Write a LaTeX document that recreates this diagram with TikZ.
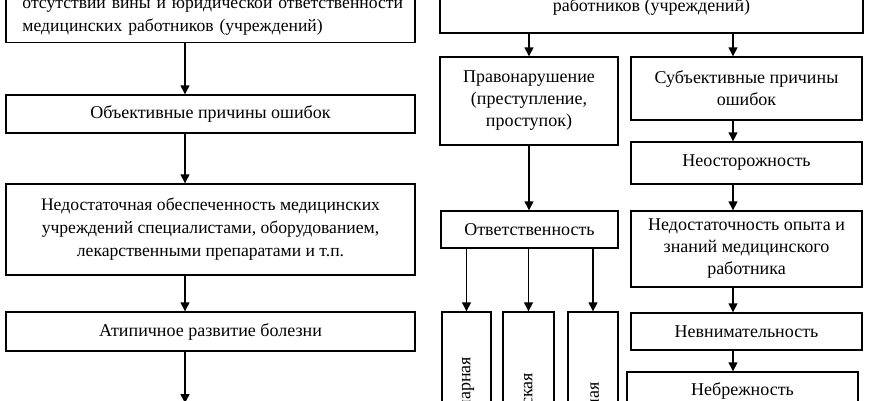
\documentclass[tikz,border=0pt]{standalone}
\usepackage{fontspec}
\setmainfont{Liberation Serif}
\usetikzlibrary{arrows.meta}
\begin{document}
\begin{tikzpicture}[x=1bp,y=-1bp,
  box/.style={draw, line width=1.4bp, inner sep=0pt, align=center,
    font=\fontsize{18bp}{22bp}\selectfont},
  arr/.style={line width=1.4bp, -{Triangle[width=9bp,length=9bp]}}]
\useasboundingbox (0,0) rectangle (870,400);
\clip (0,0) rectangle (870,400);
% left column
\node[box, anchor=south, minimum width=409bp, text width=376bp, inner xsep=16bp,
  inner ysep=7bp, align=left, font=\fontsize{17.6bp}{23.5bp}\selectfont] (top) at (210.5,43)
  {\hbox to 376bp{отсутствии\hfil\ вины\hfil\ и\hfil\ юридической\hfil\ ответственности}\\
   медицинских работников (учреждений)};
\node[box, minimum width=409bp, minimum height=38bp] (obj) at (210.5,114)
  {Объективные причины ошибок};
\node[box, minimum width=409bp, minimum height=91bp, font=\fontsize{17.6bp}{23bp}\selectfont] (ned) at (210.5,229.5)
  {Недостаточная обеспеченность медицинских\\
   учреждений специалистами, оборудованием,\\
   лекарственными препаратами и т.п.};
\node[box, minimum width=409bp, minimum height=39bp] (atip) at (210.5,331.5)
  {Атипичное развитие болезни};
\coordinate (lc) at (185,0);
\coordinate (lend) at (185,403);
\draw[arr] (top.south -| lc) -- (obj.north -| lc);
\draw[arr] (obj.south -| lc) -- (ned.north -| lc);
\draw[arr] (ned.south -| lc) -- (atip.north -| lc);
\draw[arr] (atip.south -| lc) -- (lend);
% right column
\node[box, anchor=base, minimum width=423bp, text height=40bp, text depth=22bp]
  (rtop) at (651.5,11) {работников (учреждений)};
\node[box, minimum width=178bp, minimum height=88bp] (prav) at (529,101)
  {Правонарушение\\(преступление,\\проступок)};
\node[box, minimum width=231bp, minimum height=63bp] (subj) at (746.5,88.5)
  {Субъективные причины\\ошибок};
\node[box, minimum width=231bp, minimum height=42bp] (neost) at (746.5,163)
  {Неосторожность};
\node[box, minimum width=177bp, minimum height=37bp] (otv) at (529.5,229.5)
  {Ответственность};
\node[box, minimum width=231bp, minimum height=76bp] (nedop) at (746.5,249)
  {Недостаточность опыта и\\знаний медицинского\\работника};
\node[box, minimum width=231bp, minimum height=37bp] (nevn) at (746.5,331.5)
  {Невнимательность};
\node[box, minimum width=231bp, minimum height=38bp] (nebr) at (742.5,391)
  {Небрежность};
\node[box, rotate=90, minimum width=220bp, minimum height=49bp] (v1) at (466.5,422)
  {Дисциплинарная};
\node[box, rotate=90, minimum width=220bp, minimum height=51bp] (v2) at (528.5,422)
  {Гражданская};
\node[box, rotate=90, minimum width=220bp, minimum height=50bp] (v3) at (593,422)
  {Уголовная};
\coordinate (rc) at (733,0);
\draw[arr] (rtop.south -| prav.north) -- (prav.north);
\draw[arr] (rtop.south -| rc) -- (subj.north -| rc);
\draw[arr] (subj.south -| rc) -- (neost.north -| rc);
\draw[arr] (neost.south -| rc) -- (nedop.north -| rc);
\draw[arr] (nedop.south -| rc) -- (nevn.north -| rc);
\draw[arr] (nevn.south -| rc) -- (nebr.north -| rc);
\draw[arr] (prav.south) -- (prav.south |- otv.north);
\draw[arr] (otv.south -| v1.east) -- (v1.east);
\draw[arr] (otv.south -| v2.east) -- (v2.east);
\draw[arr] (otv.south -| v3.east) -- (v3.east);
\end{tikzpicture}
\end{document}
